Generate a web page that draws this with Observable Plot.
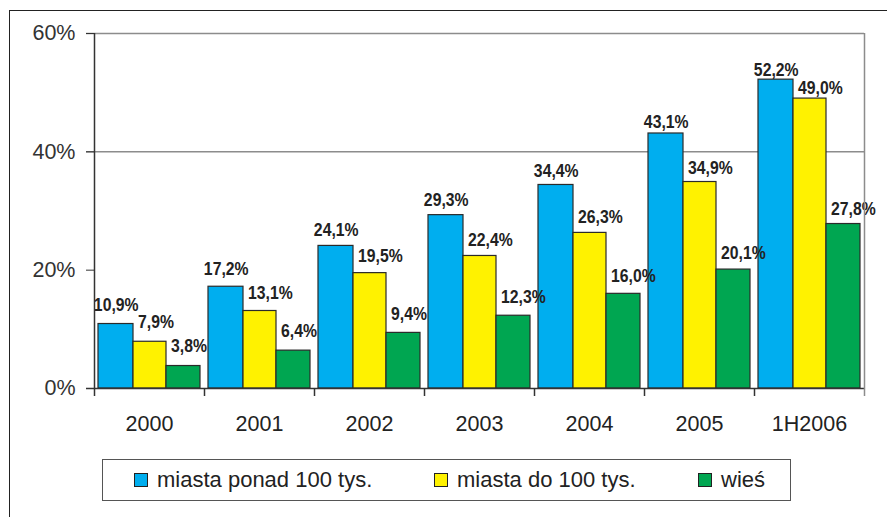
<!DOCTYPE html>
<html><head><meta charset="utf-8">
<script src="https://cdn.jsdelivr.net/npm/d3@7"></script>
<script src="https://cdn.jsdelivr.net/npm/@observablehq/plot@0.6"></script>
<style>
html,body{margin:0;padding:0;background:#fff;}
#wrap{position:relative;width:887px;height:517px;overflow:hidden;font-family:"Liberation Sans",Arial,sans-serif;}
#outer{position:absolute;left:9px;top:10px;right:-5px;bottom:-5px;border-top:1.5px solid #222;border-left:1.5px solid #222;}
#chart{position:absolute;left:0;top:0;}
#legend{position:absolute;left:102px;top:459px;width:689px;height:42px;border:1px solid #555;box-sizing:border-box;background:#fff;}
.item{position:absolute;top:0;height:100%;display:flex;align-items:center;font-size:22px;color:#222;white-space:nowrap;}
.sw{width:14px;height:14px;border:1px solid #222;box-sizing:border-box;margin-right:9px;}
</style></head>
<body>
<div id="wrap"><div id="outer"></div><div id="chart"></div><div id="legend"></div></div>
<script>
const categories = ["2000","2001","2002","2003","2004","2005","1H2006"];
const seriesNames = ["miasta ponad 100 tys.","miasta do 100 tys.","wieś"];
const bigCities = [10.9,17.2,24.1,29.3,34.4,43.1,52.2];
const smallCities = [7.9,13.1,19.5,22.4,26.3,34.9,49.0];
const village = [3.8,6.4,9.4,12.3,16.0,20.1,27.8];
const seriesColors = ["#00AEEF","#FFF200","#00A651"];
const yTicks = [0,20,40,60];
const gridValues = [40,60];

// layout / style
const barInsets = [[4,71],[39,38],[72,4]];
const labelLayout = [{textAnchor:"middle",dx:-33.3},{textAnchor:"start",dx:-11.5},{textAnchor:"start",dx:21.5}];
const legendOffsets = [31,331,595];

const seriesValues = [bigCities, smallCities, village];
const rows = seriesValues.map((vals,s)=>categories.map((c,i)=>({cat:c, s, v:vals[i]})));
const fmt = v => v.toFixed(1).replace(".", ",") + "%";

const marks = [
  Plot.ruleY(gridValues, {stroke:"#8c8c8c", strokeWidth:1.5, insetLeft:-8})
];
rows.forEach((data,s)=>{
  marks.push(Plot.barY(data, {x:"cat", y1:0, y2:"v", fill:seriesColors[s], stroke:"#2a2a2a", strokeWidth:1.2,
    insetLeft:barInsets[s][0], insetRight:barInsets[s][1]}));
});
rows.forEach((data,s)=>{
  marks.push(Plot.text(data, {x:"cat", y:d=>d.v*0.963+2.59, text:d=>fmt(d.v), lineAnchor:"bottom",
    textAnchor:labelLayout[s].textAnchor, dx:labelLayout[s].dx, fontSize:19, fontWeight:"bold", fill:"#222"}));
});
marks.push(
  Plot.ruleY([0], {stroke:"#333", strokeWidth:1.5, insetLeft:-8}),
  Plot.ruleX(categories.slice(0,-1), {x:d=>d, dx:55, y1:0, y2:0, insetTop:8, stroke:"#333", strokeWidth:1.5}),
  Plot.ruleX([categories[0]], {x:d=>d, dx:-55, y1:0, y2:60, insetTop:8, stroke:"#333", strokeWidth:1.5}),
  Plot.ruleX([categories[categories.length-1]], {x:d=>d, dx:55, y1:0, y2:60, insetTop:8, stroke:"#8c8c8c", strokeWidth:1.5}),
  Plot.axisY(yTicks, {tickSize:8, tickPadding:11, tickFormat:d=>d+"%", fontSize:21.5, label:null, color:"#333"}),
  Plot.axisX({tickSize:0, tickPadding:27, fontSize:21.5, label:null, color:"#222"})
);

const svg = Plot.plot({
  width:887, height:440,
  marginTop:33, marginRight:23, marginBottom:52, marginLeft:94,
  x:{domain:categories, padding:0},
  y:{domain:[0,60]},
  style:{fontFamily:"'Liberation Sans', Arial, sans-serif", color:"#222", background:"transparent", overflow:"visible"},
  marks
});
d3.select(svg).selectAll("text").each(function(){
  const t = this.textContent;
  if (/^\d+,\d%$/.test(t)) {
    const tr = this.getAttribute("transform");
    if (tr) this.setAttribute("transform", tr + " scale(0.83,1)");
    else {
      const x = +this.getAttribute("x")||0, y = +this.getAttribute("y")||0;
      this.removeAttribute("x"); this.removeAttribute("y");
      this.setAttribute("transform", `translate(${x},${y}) scale(0.83,1)`);
    }
  }
});
document.getElementById("chart").appendChild(svg);

const legend = document.getElementById("legend");
seriesNames.forEach((name,i)=>{
  const item = document.createElement("div");
  item.className = "item";
  item.style.left = legendOffsets[i] + "px";
  const sw = document.createElement("span");
  sw.className = "sw"; sw.style.background = seriesColors[i];
  const tx = document.createElement("span");
  tx.textContent = name;
  item.appendChild(sw); item.appendChild(tx);
  legend.appendChild(item);
});
</script>
</body></html>
